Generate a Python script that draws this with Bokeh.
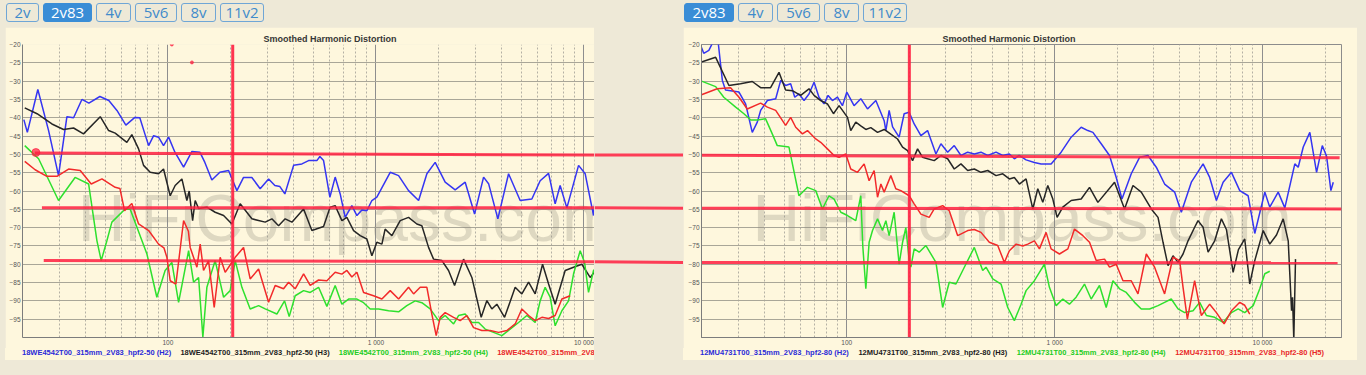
from bokeh.plotting import figure
from bokeh.models import FixedTicker, Label, Button, InlineStyleSheet, Spacer, Div
from bokeh.layouts import row, column
from bokeh.embed import file_html
from bokeh.resources import INLINE

# ---------------- data ----------------
TABS_LEFT = ["2v", "2v83", "4v", "5v6", "8v", "11v2"]
TABS_RIGHT = ["2v83", "4v", "5v6", "8v", "11v2"]
ACTIVE_TAB = "2v83"
TITLE = "Smoothed Harmonic Distortion"
WATERMARK = "HiFiCompass.com"

Y_TICKS = [-20, -25, -30, -35, -40, -45, -50, -55, -60, -65, -70, -75, -80, -85, -90, -95]
X_MAJOR = [100, 1000, 10000]
X_LABELS = {100: "100", 1000: "1 000", 10000: "10 000"}
X_MINOR = [20, 30, 40, 50, 60, 70, 80, 90, 200, 300, 400, 500, 600, 700, 800, 900,
           2000, 3000, 4000, 5000, 6000, 7000, 8000, 9000, 20000]

L_NAMES = ["18WE4542T00_315mm_2V83_hpf2-50 (H2)", "18WE4542T00_315mm_2V83_hpf2-50 (H3)",
           "18WE4542T00_315mm_2V83_hpf2-50 (H4)", "18WE4542T00_315mm_2V83_hpf2-50 (H5)"]
R_NAMES = ["12MU4731T00_315mm_2V83_hpf2-80 (H2)", "12MU4731T00_315mm_2V83_hpf2-80 (H3)",
           "12MU4731T00_315mm_2V83_hpf2-80 (H4)", "12MU4731T00_315mm_2V83_hpf2-80 (H5)"]

# left chart (18WE4542)
L_H2_F = [20.3, 21.1, 23.7, 26.7, 29.8, 32.7, 35.2, 38.6, 41.7, 47.1, 52.0, 56.9, 62.8, 69.4, 73.3, 77.5, 80.8, 85.4, 90.2, 95.3,
          100.8, 108.1, 119, 130.5, 142.5, 150.6, 162.7, 177.8, 195.8, 214.7, 231.1, 253.4, 277.8, 304.9, 326.9, 345.6, 365.2, 402.2, 440.9, 474.8,
          520.4, 538.0, 560.5, 600.9, 637.3, 673.6, 712, 766.4, 810.6, 856.5, 905.1, 956.7, 1011, 1172, 1286, 1436, 1605, 1759, 1928, 2154,
          2406, 2688, 2982, 3295, 3483, 3859, 4345, 4941, 5623, 6165, 6767, 7278, 7691, 8285, 9431, 10150, 11130, 11680]
L_H2_DB = [-40.5, -44, -32.3, -43.5, -55.8, -39.7, -40, -35, -36, -34.2, -35.3, -38, -42, -39.9, -40, -44.4, -47.6, -44.9, -45.3, -47.6,
           -45.3, -49.4, -53.5, -49.2, -49.4, -52.2, -57, -54.9, -54.4, -59.9, -56.3, -56.3, -59.4, -56.7, -58.5, -58.8, -60.8, -53, -52.6, -51.7,
           -51.7, -50.6, -51.7, -61.7, -56.2, -60.8, -67.2, -64, -66.7, -65.2, -65.4, -62.6, -61.7, -54.9, -55.8, -59.9, -62.6, -55.3, -52.2, -57.6,
           -59.7, -57.6, -66.3, -56.2, -58, -67.6, -55.3, -62.6, -62.2, -57.2, -55.2, -63.5, -58.5, -64.6, -53, -55.3, -66.7, -54.4]

L_H3_F = [20.5, 23.5, 27.7, 31.5, 35.2, 39.3, 47.3, 51.9, 55.8, 63.5, 67.1, 72.3, 76.4, 82.2, 90.2, 95.3, 102.6, 108.4, 116.8, 123.4,
          126.6, 131.5, 135.3, 140.5, 154, 168.8, 185.3, 203.1, 222.6, 253.4, 293.7, 316.2, 340.5, 366.4, 394.7, 449.3, 492.4, 560.5, 603, 637.3,
          686.4, 725.5, 781.5, 840.6, 905.1, 956.7, 1011, 1069, 1108, 1194, 1309, 1436, 1574, 1664, 1792, 1894, 2077, 2236, 2390, 2640,
          2894, 3209, 3418, 3611, 3817, 4158, 4675, 5034, 5423, 5833, 6331, 6767, 7278, 8131, 8923, 9781, 10720, 11550]
L_H3_DB = [-37.3, -38.9, -41.7, -43.2, -42.8, -44.4, -39.7, -43.5, -44.2, -46.7, -44.6, -48.5, -53, -54.9, -55.3, -54, -61.3, -58.5, -56.7, -62.6,
           -60, -68.1, -62.6, -64.8, -64.4, -65.8, -66.7, -69, -63.5, -67.6, -68.5, -67.6, -69.5, -67.6, -68.5, -64.9, -70.8, -69.7, -64.4, -64,
           -68.1, -67.2, -70.8, -72.2, -73.1, -77.7, -74, -74.5, -70.4, -72.2, -68.1, -67.2, -69, -69.5, -75.4, -78.6, -79, -81.7, -85.8, -78.6,
           -83.6, -94.5, -89.9, -92.2, -90.9, -94.5, -86.3, -88.1, -84.9, -88.1, -80, -85.4, -90.9, -81.7, -80.8, -80, -83.6, -81.3]

L_H4_F = [20.5, 23.9, 29.8, 35.8, 41.6, 45.6, 47.8, 50.9, 53.8, 62.3, 65.9, 79.3, 88.5, 97.0, 104.5, 112.6, 125.8, 132.9, 140.5, 147.3,
          154, 168.8, 185.3, 199.3, 210.7, 226.9, 248.7, 273.0, 293.7, 334.2, 363.9, 383.1, 409.3, 449.3, 483.3, 530.4, 581.4, 637.3, 686.4, 739.2,
          810.6, 872.9, 938.9, 1030, 1151, 1286, 1409, 1545, 1664, 1824, 2001, 2154, 2364, 2498, 2688, 2894, 3118, 3354, 3680, 4035,
          4423, 4854, 5321, 5833, 6165, 6515, 6887, 7278, 7840, 8442, 8923, 9599, 10080, 10530, 11130, 11550]
L_H4_DB = [-47.6, -51.2, -62.6, -56.3, -58.1, -73.6, -79, -73.6, -68.5, -64.9, -65, -77.2, -89, -81.7, -79.5, -90.4, -76.3, -84.9, -83.6, -99.9,
           -86.3, -79, -89, -87.2, -79, -86.3, -92.2, -91.3, -92.2, -93.6, -90, -94.3, -88.6, -87.2, -87.7, -86.3, -91.5, -85.8, -90.9, -89.5,
           -89.5, -90.5, -92.2, -92.2, -92.7, -93, -91.3, -90, -90.5, -92.2, -95.4, -94, -96.3, -94, -93.6, -95.9, -95.9, -97.7, -98.6, -99.5,
           -97.7, -95.9, -94, -95.9, -90, -86.3, -89, -96.8, -92.7, -90, -82.6, -76.3, -79.5, -87.7, -81.7, -80.9]

L_H5_F = [20.5, 23.0, 26.2, 29.3, 33.3, 37.9, 42.8, 48.2, 55.8, 58.8, 61.9, 67.1, 72.3, 80.8, 90.2, 95.7, 98.9, 102.6, 109.3, 119,
          125.5, 128, 137.9, 143, 148.4, 156.9, 167, 178.4, 188.6, 199.3, 210.7, 231.1, 248.7, 273, 304.9, 328, 359.9, 380.5, 409.3, 449.3,
          483.3, 530.4, 581.4, 637.3, 686.4, 725.5, 766.4, 810.6, 872.9, 974.7, 1069, 1172, 1286, 1436, 1518, 1633, 1759, 1858, 1950, 2038,
          2154, 2364, 2543, 2738, 2949, 3233, 3544, 3890, 4264, 4675, 5034, 5423, 5833, 6283, 6767, 7278, 7840, 8592]
L_H5_DB = [-51.9, -54.2, -56, -56, -54, -54.4, -58.1, -56.7, -59, -59.3, -65.4, -63.4, -69, -70.8, -74.5, -75.5, -78.1, -84.5, -85.4, -68.1,
           -71, -75.4, -80.8, -74.5, -81.7, -79, -91.8, -78.1, -82.2, -80.2, -78.1, -75.4, -84, -81.3, -90.4, -85.8, -86.7, -84.9, -86.7, -82.6,
           -85.8, -84.3, -84.5, -82.2, -82.7, -81.7, -83.5, -82.2, -87.7, -88.6, -89.5, -87.2, -89.5, -86.3, -88.1, -86.3, -86.3, -93.6, -99.5, -94.5,
           -93.2, -94.5, -95.4, -94, -97.3, -98.1, -98.1, -98.6, -98.1, -96.3, -92.2, -94, -95.4, -94.5, -94.8, -94, -89.5, -88.6]

# right chart (12MU4731)
R_H2_F = [20.0, 20.5, 21.7, 23.8, 25.2, 26.1, 27.6, 30.3, 32.6, 35.1, 37.1, 38.5, 41.5, 45.5, 48.1, 50.8, 53.7, 56.2, 58.9, 62.3,
          65.8, 69.6, 73.5, 77.7, 81.3, 85.3, 90.2, 95.3, 100, 108.4, 116.8, 125.8, 138, 151.3, 154.2, 159.9, 166.1, 178.6, 188.8, 199.6,
          211, 227.3, 244.8, 268.5, 283.8, 305.7, 328.9, 354.3, 381.7, 410.7, 442.3, 476.6, 522.6, 562.9, 605.6, 640.1, 674.4, 728.9, 799.1, 860.9,
          961.8, 1075, 1201, 1342, 1445, 1528, 1675, 1837, 1979, 2109, 2337, 2563, 2813, 3084, 3382, 3779, 4070, 4547, 5179, 5572,
          6002, 6466, 7090, 7774, 8532, 9182, 10260, 10840, 11900, 12810, 14310, 14860, 15710, 16900, 18210, 19400, 20340, 21340, 21910]
R_H2_DB = [-20.8, -22.4, -21.6, -17, -29.8, -32.4, -32.6, -33, -36.2, -44, -41.2, -38, -35.3, -34.8, -29.8, -31.2, -30.7, -34.4, -33.5, -35.3,
           -33.5, -30.3, -34.4, -36.2, -33.9, -35.3, -34.4, -36.7, -33, -36.7, -34.8, -37.6, -35.3, -40.8, -43.5, -38, -42.5, -45.3, -38.9, -38.5,
           -41.7, -44.9, -43.5, -49.9, -47.1, -49.4, -47.6, -50.3, -49.4, -49.9, -49.4, -50.3, -49.4, -50.3, -49.9, -51.2, -50.3, -51.5, -52.2, -52.6,
           -52.6, -49.4, -45.3, -42.6, -43.5, -44, -47.1, -50.3, -56.3, -62.2, -55.3, -50.8, -50.3, -53.5, -58.1, -60.3, -65.8, -57.6, -52.6, -56.3,
           -62.6, -57.6, -54.9, -59.9, -61.3, -71.6, -60.3, -64.4, -60.3, -64.6, -52.6, -53.5, -48, -44, -54.9, -47.6, -50.5, -59.9, -57.6]

R_H3_F = [20.0, 23.4, 27.1, 30.8, 35.1, 38.5, 43.0, 47.2, 50.8, 54.7, 60.0, 65.8, 69.6, 74.9, 80.7, 86.3, 91.8, 100.8, 104.5, 110.5,
          116.8, 123.5, 130.5, 140.6, 151.3, 162.9, 175.5, 185.5, 196.1, 207.3, 219.1, 231.6, 244.8, 263.4, 283.8, 305.7, 328.9, 354.3, 381.7, 410.7,
          442.3, 476.6, 522.6, 562.9, 605.6, 640.1, 676.8, 728.9, 785.0, 829.8, 877.2, 927.2, 980.2, 1028, 1095, 1201, 1342, 1472, 1615, 1942,
          2170, 2382, 2612, 2918, 3144, 3323, 3512, 3712, 3924, 4148, 4385, 4717, 4898, 5179, 5474, 5890, 6344, 6707, 7224, 7662,
          8215, 8685, 9182, 10080, 10840, 11680, 12580, 13300, 13800, 13950, 14150, 14420]
R_H3_DB = [-24.8, -23.5, -31.2, -30.7, -30.1, -31.8, -31.8, -27.6, -32.4, -32.6, -33.9, -32.1, -33.9, -35.3, -36.2, -38.9, -36.7, -39.9, -43.5, -41.2,
           -42.2, -43.2, -42.7, -44, -43.2, -44.5, -45.8, -48, -49, -51.7, -48.5, -50.8, -51.2, -51.7, -50.3, -51.2, -54, -52.6, -54.4, -54,
           -54.9, -54.4, -55.8, -55.3, -56.7, -56.3, -58.1, -56.7, -64.9, -59.4, -63.1, -58.5, -62.2, -67.2, -64.4, -62.6, -62.2, -59, -63.1, -57.6,
           -64.9, -58.5, -60.3, -64.9, -67.2, -74, -80.4, -77.7, -79.5, -77.2, -73.6, -69.9, -68.1, -69.9, -76.7, -73.6, -67.6, -70.5, -82.2, -76,
           -73.1, -85.4, -79, -70.8, -74.5, -72, -67.6, -73.6, -92.7, -89, -100.5, -78.6]

R_H4_F = [20.0, 23.4, 25.6, 29.2, 32.0, 34.5, 37.1, 40.7, 43.8, 46.3, 52.7, 58.9, 64.7, 70.9, 76.4, 82.1, 86.9, 93.6, 100.8, 110.5,
          116.8, 119.4, 123.5, 128.1, 133.0, 140.6, 148.6, 154.2, 159.9, 169.0, 178.6, 185.5, 192.4, 198.9, 203.4, 211, 223.0, 240.3, 268.5, 289.2,
          311.2, 335.3, 361.2, 410.7, 450.8, 467.6, 503.8, 552.3, 595, 640.1, 689.7, 728.9, 799.1, 845, 892.9, 943.9, 1017, 1095, 1178, 1269,
          1392, 1499, 1644, 1771, 1908, 2053, 2211, 2424, 2612, 2863, 3144, 3382, 3641, 3924, 4222, 4634, 4986, 5373, 5890, 6466,
          7090, 7638, 8215, 9020, 9705, 10260, 10840]
R_H4_DB = [-30, -31.5, -34.4, -37.1, -38.9, -40.6, -40.6, -40.3, -44.4, -47.6, -48, -61.3, -59, -59.9, -64.9, -61.3, -62.2, -65.8, -66.7, -68.1,
           -61.3, -75, -86.7, -74, -70.8, -67.6, -70.8, -68.1, -72.2, -65.8, -80, -74, -70, -78, -80.8, -75.8, -76.7, -74.9, -79.5, -91.8,
           -84.9, -85.4, -81.7, -75.4, -81.7, -80.8, -84, -85.4, -91.8, -95.4, -90.9, -87.2, -84.5, -82.2, -80, -86.3, -91.3, -89.5, -90.9, -89,
           -85.4, -89.5, -85.8, -91.8, -84.5, -86.7, -87.7, -90.4, -92.2, -92.2, -91.3, -90.4, -89.5, -92.2, -93.2, -92.7, -90.4, -94, -94.5, -95.9,
           -93.2, -92.2, -93.2, -91.3, -86.7, -82.6, -81.9]

R_H5_F = [20.0, 23.8, 27.6, 30.3, 33.2, 38.5, 41.5, 45.5, 50.8, 53.7, 56.8, 61.2, 64.7, 70.9, 74.9, 80.7, 86.9, 91.8, 98.9, 104.5,
          112.6, 121.2, 128.1, 135.4, 140.6, 145.9, 151.3, 162.9, 172.2, 182, 199.6, 211, 227.3, 249.2, 263.4, 289.2, 311.2, 341.7, 381.7, 410.7,
          442.3, 485.1, 532.5, 573.1, 605.6, 652.6, 702.6, 742.7, 799.1, 845, 910, 961.8, 1055, 1158, 1246, 1368, 1472, 1585, 1738, 1837,
          1979, 2132, 2337, 2518, 2761, 3027, 3382, 3712, 3995, 4148, 4352, 4717, 5082, 5572, 6002, 6538, 7090, 7774, 8215, 8685]
R_H5_DB = [-33.7, -32.1, -31.8, -34.4, -37.6, -36, -37.1, -38, -42.1, -39.9, -42.6, -44.4, -43.5, -45.8, -46.7, -48.5, -50.3, -50.8, -49.9, -54,
           -54.9, -52.6, -57.2, -54.4, -61.7, -58.1, -60.3, -55.8, -59.4, -59.9, -61.3, -63.5, -66.3, -67.2, -64.9, -64, -65.4, -72.2, -70.8, -70.5,
           -71.3, -74, -74.9, -79.5, -76.3, -74.5, -75, -74.5, -73.6, -75.8, -71.3, -75.8, -77.2, -75.8, -70.4, -72.2, -74, -79, -78.6, -80.8,
           -80, -84.5, -84.5, -88.1, -77.2, -80.8, -88.1, -78.1, -79, -86.3, -95, -84.5, -94, -90.9, -93.2, -96.3, -92.7, -90.4, -91.2, -93.6]

# hand-drawn red reference marks (cursor frequency and level lines)
L_CURSOR_F = [205, 205]
R_CURSOR_F = [200, 200]
CURSOR_DB = [-100, -20]
L_REF_F0 = [22.9, 24.8, 25.3]
L_REF_F1 = [12000, 12000, 12000]
L_REF_DB0 = [-49.6, -64.6, -79.0]
L_REF_DB1 = [-50.2, -64.6, -79.3]
R_REF_F0 = [15, 15, 15]
R_REF_F1 = [23500, 24000, 22980]
R_REF_DB0 = [-50.2, -64.7, -79.5]
R_REF_DB1 = [-50.9, -64.9, -79.6]
GAP_DB0 = [-50.2, -64.6, -79.3]
GAP_DB1 = [-50.2, -64.7, -79.5]
L_DOT_F = [23.2, 104.5, 130.5]
L_DOT_DB = [-49.5, -20, -24.9]
L_DOT_SIZE = [8, 3, 3]

# ---------------- style ----------------
BEIGE = "#eee9d7"
CREAM = "#fef7dd"
SERIES_COLORS = ["#3535f2", "#262626", "#2ee02e", "#f22a2a"]
LEGEND_COLORS = ["#2a2ad8", "#1c1c1c", "#22cc22", "#e82828"]
MARK_RED = "#ff1f40"
FONT = "Liberation Sans"


def build_chart(width, x_end, b_left, b_right, series, cursor_f,
                ref_f0, ref_f1, ref_db0, ref_db1, wm_f, outline):
    p = figure(width=width, height=321, x_axis_type="log", x_range=(20, x_end), y_range=(-100, -20),
               output_backend="svg", toolbar_location=None, title=TITLE)
    p.min_border_left = b_left
    p.min_border_right = b_right
    p.min_border_top = 17
    p.min_border_bottom = 11
    p.background_fill_color = CREAM
    p.border_fill_color = CREAM
    p.outline_line_color = outline

    p.title.text_font = FONT
    p.title.text_font_style = "bold"
    p.title.text_font_size = "9px"
    p.title.text_color = "#363636"
    p.title.align = "left"
    p.title.offset = 241
    p.title.standoff = 2

    tx = FixedTicker(ticks=X_MAJOR, minor_ticks=X_MINOR)
    ty = FixedTicker(ticks=Y_TICKS)
    p.xaxis.ticker = tx
    p.xgrid.ticker = tx
    p.yaxis.ticker = ty
    p.ygrid.ticker = ty
    p.xaxis.major_label_overrides = X_LABELS
    for ax in (p.xaxis, p.yaxis):
        ax.major_tick_line_color = None
        ax.minor_tick_line_color = None
        ax.major_tick_out = 0
        ax.major_tick_in = 0
        ax.minor_tick_out = 0
        ax.minor_tick_in = 0
        ax.axis_label_standoff = 0
        ax.axis_line_color = "#7c7c7c"
        ax.major_label_text_font = FONT
        ax.major_label_text_font_size = "6.5px"
        ax.major_label_text_color = "#555555"
    p.xaxis.major_label_standoff = 1
    p.yaxis.major_label_standoff = 2

    p.xgrid.grid_line_color = "#8e8e8e"
    p.xgrid.minor_grid_line_color = "#b4b0a4"
    p.xgrid.minor_grid_line_dash = "2 2"
    p.ygrid.grid_line_color = "#a9a698"
    p.ygrid.grid_line_width = 1.2

    p.add_layout(Label(x=wm_f, y=-67.3, text=WATERMARK, text_font=FONT, text_font_size="66px",
                       text_color="#8d887a", text_alpha=0.28, text_baseline="alphabetic", level="underlay"))

    for (f, db), col in zip(series, SERIES_COLORS):
        p.line(f, db, color=col, line_width=1.5)

    p.line(cursor_f, CURSOR_DB, color=MARK_RED, line_width=3, alpha=0.9)
    for f0, f1, d0, d1 in zip(ref_f0, ref_f1, ref_db0, ref_db1):
        p.line([f0, f1], [d0, d1], color=MARK_RED, line_width=3, alpha=0.85)
    return p


def legend_div(names, width):
    spans = "".join(
        f'<span style="display:inline-block;width:158.4px;color:{c}">{n}</span>'
        for n, c in zip(names, LEGEND_COLORS))
    html = (f'<div style="width:{width}px;height:12px;overflow:hidden;white-space:nowrap;'
            f'background:{CREAM};font-family:\'Liberation Sans\',Arial,sans-serif;font-weight:bold;'
            f'font-size:7.5px;line-height:9px;padding-left:17px;box-sizing:border-box">{spans}</div>')
    return Div(text=html, width=width, height=12, margin=0)


left = build_chart(589, 11250, 17, 0,
                   [(L_H2_F, L_H2_DB), (L_H3_F, L_H3_DB), (L_H4_F, L_H4_DB), (L_H5_F, L_H5_DB)],
                   L_CURSOR_F, L_REF_F0, L_REF_F1, L_REF_DB0, L_REF_DB1, 36.9, None)
left.scatter(L_DOT_F, L_DOT_DB, size=L_DOT_SIZE, color=MARK_RED, alpha=0.7)

right = build_chart(674, 24000, 18, 16,
                    [(R_H2_F, R_H2_DB), (R_H3_F, R_H3_DB), (R_H4_F, R_H4_DB), (R_H5_F, R_H5_DB)],
                    R_CURSOR_F, R_REF_F0, R_REF_F1, R_REF_DB0, R_REF_DB1, 35.2, "#8c8c8c")

gap = figure(width=89, height=375, x_range=(0, 1), y_range=(-100, -20), output_backend="svg",
             toolbar_location=None, x_axis_location=None, y_axis_location=None)
gap.min_border_left = 0
gap.min_border_right = 0
gap.min_border_top = 44
gap.min_border_bottom = 38
gap.grid.visible = False
gap.outline_line_color = None
gap.background_fill_color = BEIGE
gap.border_fill_color = BEIGE
gap.segment(x0=[0, 0, 0], y0=GAP_DB0, x1=[1, 1, 1], y1=GAP_DB1, color=MARK_RED, line_width=3, alpha=0.85)

BTN_BASE = (".bk-btn{padding:0 !important;height:19px !important;line-height:17px !important;"
            "font-family:'Open Sans',sans-serif !important;font-size:15px !important;border-radius:3px !important;"
            "box-shadow:none !important;border:1px solid #6fa6d6 !important;}")
css_off = InlineStyleSheet(css=BTN_BASE + ".bk-btn{background:transparent !important;color:#3f8bcb !important;}")
css_on = InlineStyleSheet(css=BTN_BASE + ".bk-btn{background:#3a8dd6 !important;color:#ffffff !important;border-color:#3a8dd6 !important;}")


def tab_row(labels, widths):
    btns = []
    for i, (lab, w) in enumerate(zip(labels, widths)):
        btns.append(Button(label=lab, width=w, height=19,
                           margin=(3, 4, 5, 1 if i == 0 else 0),
                           stylesheets=[css_on if lab == ACTIVE_TAB else css_off]))
    return row(*btns)


left_col = column(tab_row(TABS_LEFT, [33, 49, 35, 42, 35, 44]), left, legend_div(L_NAMES, 589),
                  Spacer(width=589, height=15))
right_col = column(tab_row(TABS_RIGHT, [50, 35, 43, 35, 44]), right, legend_div(R_NAMES, 674),
                   Spacer(width=674, height=15))

root = row(Spacer(width=5, height=375), left_col, gap, right_col, Spacer(width=9, height=375),
           styles={"background-color": BEIGE})

open("out.html", "w").write(file_html(root, INLINE))
